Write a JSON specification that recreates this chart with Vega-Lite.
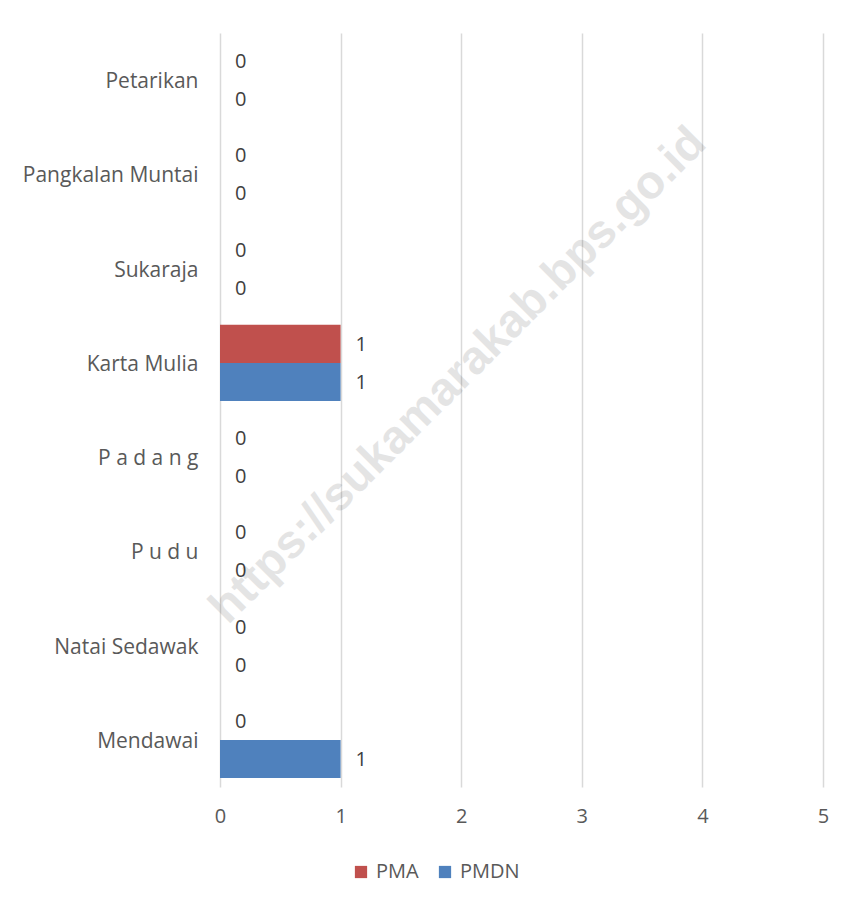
{
  "$schema": "https://vega.github.io/schema/vega-lite/v6.json",
  "width": 603,
  "height": 754,
  "autosize": {"type": "none"},
  "padding": {"left": 220, "top": 33, "right": 31, "bottom": 120},
  "background": "white",
  "config": {"view": {"stroke": null}, "font": "Open Sans"},
  "data": {
    "values": [
      {"region": "Petarikan", "series": "PMA", "value": 0},
      {"region": "Petarikan", "series": "PMDN", "value": 0},
      {"region": "Pangkalan Muntai", "series": "PMA", "value": 0},
      {"region": "Pangkalan Muntai", "series": "PMDN", "value": 0},
      {"region": "Sukaraja", "series": "PMA", "value": 0},
      {"region": "Sukaraja", "series": "PMDN", "value": 0},
      {"region": "Karta Mulia", "series": "PMA", "value": 1},
      {"region": "Karta Mulia", "series": "PMDN", "value": 1},
      {"region": "P a d a n g", "series": "PMA", "value": 0},
      {"region": "P a d a n g", "series": "PMDN", "value": 0},
      {"region": "P u d u", "series": "PMA", "value": 0},
      {"region": "P u d u", "series": "PMDN", "value": 0},
      {"region": "Natai Sedawak", "series": "PMA", "value": 0},
      {"region": "Natai Sedawak", "series": "PMDN", "value": 0},
      {"region": "Mendawai", "series": "PMA", "value": 0},
      {"region": "Mendawai", "series": "PMDN", "value": 1}
    ]
  },
  "encoding": {
    "y": {
      "field": "region",
      "type": "nominal",
      "sort": ["Petarikan", "Pangkalan Muntai", "Sukaraja", "Karta Mulia", "P a d a n g", "P u d u", "Natai Sedawak", "Mendawai"],
      "scale": {"paddingInner": 0.19, "paddingOuter": 0.095},
      "axis": {"title": null, "domain": false, "ticks": false, "grid": false, "labelPadding": 22, "labelOffset": 2, "labelFontSize": 21, "labelColor": "#595959", "labelFont": "Open Sans"}
    },
    "x": {
      "field": "value",
      "type": "quantitative",
      "scale": {"domain": [0, 5], "nice": false},
      "axis": {"title": null, "domain": false, "ticks": false, "values": [0, 1, 2, 3, 4, 5], "labelOverlap": false, "labelFlush": false, "grid": true, "gridColor": "#d9d9d9", "gridWidth": 1.5, "labelPadding": 19, "labelFontSize": 20, "labelColor": "#595959", "labelFont": "Open Sans"}
    }
  },
  "layer": [
    {
      "mark": {"type": "bar"},
      "encoding": {
        "yOffset": {"field": "series", "sort": ["PMA", "PMDN"]},
        "color": {
          "field": "series",
          "type": "nominal",
          "scale": {"domain": ["PMA", "PMDN"], "range": ["#C0504D", "#4F81BD"]},
          "legend": {"title": null, "orient": "none", "legendX": 131, "legendY": 829, "direction": "horizontal", "symbolType": "square", "symbolSize": 150, "symbolStrokeWidth": 0, "labelFontSize": 20, "labelColor": "#595959", "labelFont": "Open Sans", "columnPadding": 16, "labelOffset": 5}
        }
      }
    },
    {
      "mark": {"type": "text", "align": "left", "dx": 15, "dy": 1, "fontSize": 20, "color": "#404040", "font": "Open Sans"},
      "encoding": {
        "yOffset": {"field": "series", "sort": ["PMA", "PMDN"]},
        "text": {"field": "value", "type": "quantitative"}
      }
    },
    {
      "data": {"values": [{"wm": "https://sukamarakab.bps.go.id", "region": "Karta Mulia", "value": 1.87}]},
      "mark": {"type": "text", "angle": 315, "dy": 18, "fontSize": 47, "fontWeight": "bold", "font": "Liberation Sans", "color": "#000000", "opacity": 0.1},
      "encoding": {
        "text": {"field": "wm", "type": "nominal"}
      }
    }
  ]
}
